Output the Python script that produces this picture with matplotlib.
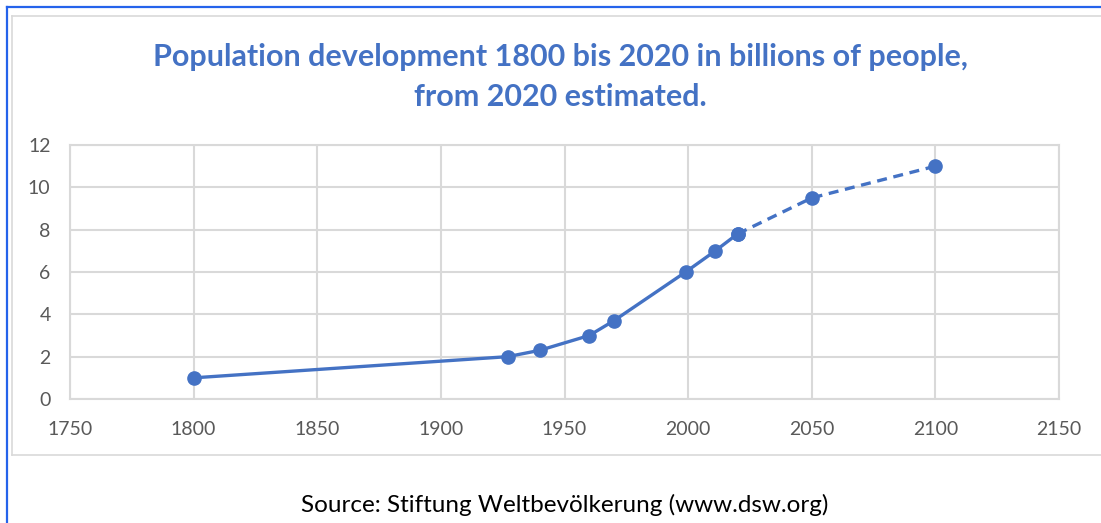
import matplotlib
matplotlib.use("Agg")
import matplotlib.pyplot as plt
from matplotlib.lines import Line2D

# world population, billions (1800-2020 observed, 2020 onward projected)
years = [1800, 1927, 1940, 1960, 1970, 1999, 2011, 2020]
pop = [1.0, 2.0, 2.3, 3.0, 3.7, 6.0, 7.0, 7.8]
proj_years = [2020, 2050, 2100]
proj_pop = [7.8, 9.5, 11.0]

x_ticks = [1750, 1800, 1850, 1900, 1950, 2000, 2050, 2100, 2150]
y_ticks = [0, 2, 4, 6, 8, 10, 12]

W, H = 1101, 523
blue = "#4472C4"
grid_c = "#D9D9D9"
tick_c = "#595959"

plt.rcParams['font.family'] = ['Lato', 'DejaVu Sans']

fig = plt.figure(figsize=(W / 100, H / 100), dpi=100)
ax = fig.add_axes([70 / W, 1 - 399 / H, (1059 - 70) / W, (399 - 145) / H])

ax.plot(years, pop, color=blue, lw=2.4, marker='o', ms=9.5, zorder=3)
ax.plot(proj_years, proj_pop, color=blue, lw=2.4, ls=(0, (3, 2)), marker='o', ms=9.5, zorder=3)

ax.set_xlim(1750, 2150)
ax.set_ylim(0, 12)
ax.set_xticks(x_ticks)
ax.set_yticks(y_ticks)
ax.grid(True, color=grid_c, lw=1.5)
ax.set_axisbelow(True)
for s in ax.spines.values():
    s.set_color(grid_c)
    s.set_linewidth(1.5)
ax.tick_params(length=0, colors=tick_c, labelsize=14)
ax.tick_params(axis='x', pad=16)
ax.tick_params(axis='y', pad=14)

fig.text(560 / W, 1 - 57 / H, "Population development 1800 bis 2020 in billions of people,",
         ha='center', va='center', color=blue, fontsize=22, fontweight='bold')
fig.text(560 / W, 1 - 97 / H, "from 2020 estimated.",
         ha='center', va='center', color=blue, fontsize=22, fontweight='bold')
fig.text(565 / W, 1 - 505 / H, "Source: Stiftung Weltbevölkerung (www.dsw.org)",
         ha='center', va='center', color='black', fontsize=17.5)

# outer blue frame and inner gray chart border
def px_line(x0, y0, x1, y1, color, lw):
    fig.add_artist(Line2D([x0 / W, x1 / W], [1 - y0 / H, 1 - y1 / H],
                          transform=fig.transFigure, color=color, lw=lw))

px_line(7, 7, 7, H, "#2563EB", 1.6)
px_line(7, 7, W, 7, "#2563EB", 1.6)
px_line(12, 16, W, 16, grid_c, 1.2)
px_line(12, 16, 12, 455, grid_c, 1.2)
px_line(12, 455, W, 455, grid_c, 1.2)

fig.savefig("out.png", dpi=100)
